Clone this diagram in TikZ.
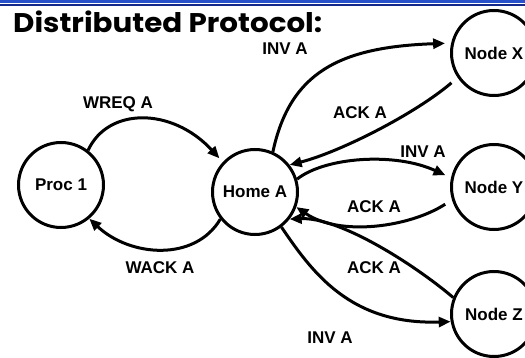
\documentclass[tikz,border=0pt]{standalone}
\usepackage{fontspec}
\setmainfont{Liberation Sans}
\newfontfamily\titlefont{Poppins}
\usetikzlibrary{arrows.meta}
\definecolor{bandA}{RGB}{40,80,200}
\definecolor{bandB}{RGB}{20,40,140}
\begin{document}
\begin{tikzpicture}[x=1pt,y=1pt,
  state/.style={circle,draw,line width=3pt,minimum size=85pt,inner sep=0pt,font=\fontsize{17}{20}\selectfont\bfseries},
  msg/.style={line width=3pt,-{Triangle[length=12pt,width=10pt]}},
  lbl/.style={font=\fontsize{17}{20}\selectfont\bfseries,anchor=base,inner sep=0pt}]
\useasboundingbox (0,0) rectangle (525,357);
\clip (0,0) rectangle (525,357);
\draw[bandA,line width=2.7pt] (0,355.7) -- (525,355.7);
\draw[bandB,line width=2pt] (0,352.3) -- (525,352.3);
\node[anchor=base west,inner sep=0pt,font=\titlefont\bfseries\fontsize{27}{30}\selectfont] (title) at (13,324) {\resizebox{309pt}{\height}{Distributed Protocol:}};

\node[state] (p1) at (61,172) {Proc 1};
\node[state] (home) at (255,165) {Home A};
\node[state] (nx) at (494,304) {Node X};
\node[state] (ny) at (494,170) {Node Y};
\node[state] (nz) at (494,43) {Node Z};

\draw[msg,shorten >=5pt] (p1.52) .. controls (108,250) and (172,250) .. (home.137);
\draw[msg] (home.218) .. controls (195,95) and (130,100) .. (p1.310);
\draw[msg,shorten >=6pt] (home.66) .. controls (290,285) and (340,310) .. (nx.167);
\draw[msg,shorten <=8pt] (nx.214) .. controls (415,243) and (340,205) .. (home.38);
\draw[msg,shorten >=6pt] (home.17) .. controls (325,200) and (395,205) .. (ny.168);
\draw[msg,shorten <=8pt] (ny.197) .. controls (410,130) and (340,120) .. (home.-20);
\draw[msg] (nz.158) .. controls (415,92) and (340,140) .. (home.-38);
\draw[msg] (home.-53) .. controls (312,85) and (350,32) .. (nz.190);

\node[lbl] (l1) at (118,248) {WREQ A};
\node[lbl] (l2) at (160,84) {WACK A};
\node[lbl] (l3) at (285,302) {INV A};
\node[lbl] (l4) at (360,239) {ACK A};
\node[lbl] (l5) at (423,200) {INV A};
\node[lbl] (l6) at (374,145) {ACK A};
\node[lbl] (l7) at (374,84) {ACK A};
\node[lbl] (l8) at (330,14) {INV A};
\end{tikzpicture}
\end{document}
